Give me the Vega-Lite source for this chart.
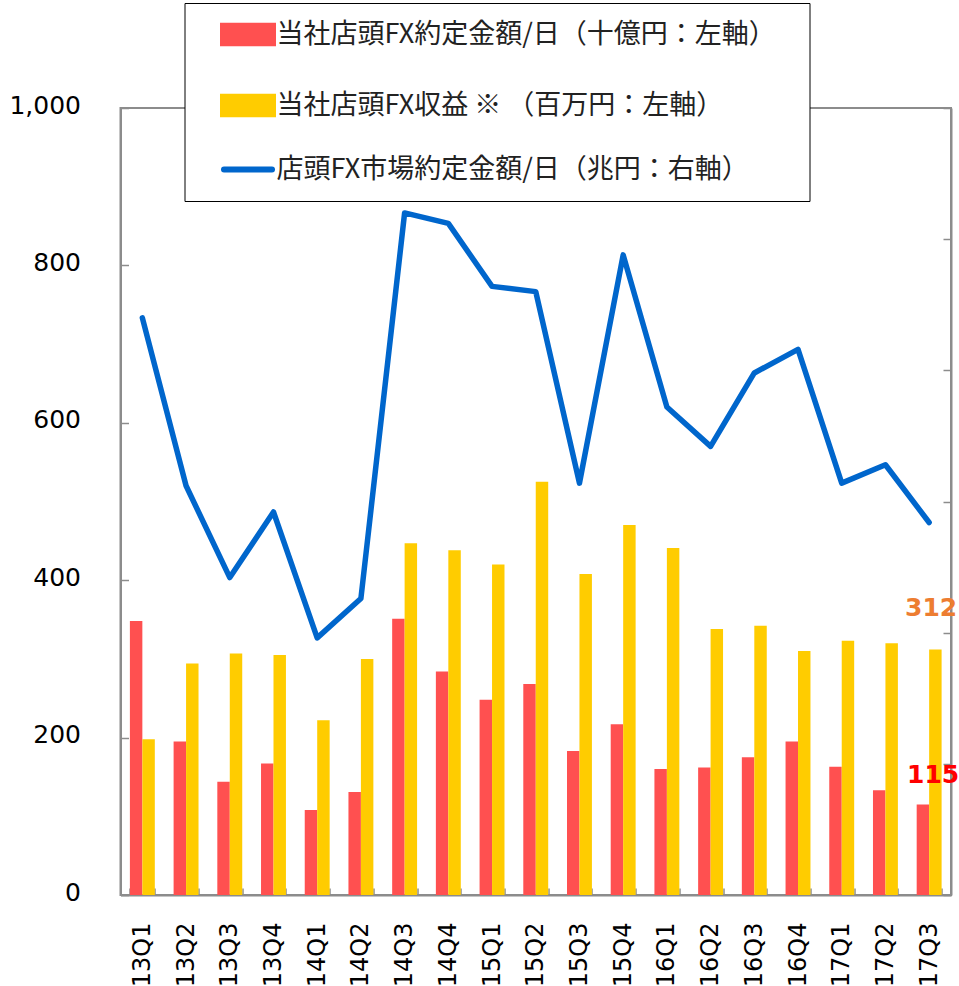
{
  "$schema": "https://vega.github.io/schema/vega-lite/v6.json",
  "width": 830.5,
  "height": 787,
  "autosize": {"type": "none"},
  "padding": {"left": 120.5, "top": 108, "right": 8, "bottom": 91},
  "background": "white",
  "config": {
    "view": {"stroke": "#8c8c8c", "strokeWidth": 2},
    "font": "DejaVu Sans",
    "axis": {"domainColor": "#8c8c8c", "domainWidth": 2, "tickColor": "#8c8c8c", "tickWidth": 1.5, "labelColor": "#000000", "grid": false, "title": null}
  },
  "datasets": {
    "bars": [
      {"q": "13Q1", "series": "当社店頭FX約定金額/日（十億円：左軸）", "value": 348},
      {"q": "13Q2", "series": "当社店頭FX約定金額/日（十億円：左軸）", "value": 195},
      {"q": "13Q3", "series": "当社店頭FX約定金額/日（十億円：左軸）", "value": 144},
      {"q": "13Q4", "series": "当社店頭FX約定金額/日（十億円：左軸）", "value": 167},
      {"q": "14Q1", "series": "当社店頭FX約定金額/日（十億円：左軸）", "value": 108},
      {"q": "14Q2", "series": "当社店頭FX約定金額/日（十億円：左軸）", "value": 131},
      {"q": "14Q3", "series": "当社店頭FX約定金額/日（十億円：左軸）", "value": 351},
      {"q": "14Q4", "series": "当社店頭FX約定金額/日（十億円：左軸）", "value": 284},
      {"q": "15Q1", "series": "当社店頭FX約定金額/日（十億円：左軸）", "value": 248},
      {"q": "15Q2", "series": "当社店頭FX約定金額/日（十億円：左軸）", "value": 268},
      {"q": "15Q3", "series": "当社店頭FX約定金額/日（十億円：左軸）", "value": 183},
      {"q": "15Q4", "series": "当社店頭FX約定金額/日（十億円：左軸）", "value": 217},
      {"q": "16Q1", "series": "当社店頭FX約定金額/日（十億円：左軸）", "value": 160},
      {"q": "16Q2", "series": "当社店頭FX約定金額/日（十億円：左軸）", "value": 162},
      {"q": "16Q3", "series": "当社店頭FX約定金額/日（十億円：左軸）", "value": 175},
      {"q": "16Q4", "series": "当社店頭FX約定金額/日（十億円：左軸）", "value": 195},
      {"q": "17Q1", "series": "当社店頭FX約定金額/日（十億円：左軸）", "value": 163},
      {"q": "17Q2", "series": "当社店頭FX約定金額/日（十億円：左軸）", "value": 133},
      {"q": "17Q3", "series": "当社店頭FX約定金額/日（十億円：左軸）", "value": 115},
      {"q": "13Q1", "series": "当社店頭FX収益 ※ （百万円：左軸）", "value": 198},
      {"q": "13Q2", "series": "当社店頭FX収益 ※ （百万円：左軸）", "value": 294},
      {"q": "13Q3", "series": "当社店頭FX収益 ※ （百万円：左軸）", "value": 307},
      {"q": "13Q4", "series": "当社店頭FX収益 ※ （百万円：左軸）", "value": 305},
      {"q": "14Q1", "series": "当社店頭FX収益 ※ （百万円：左軸）", "value": 222},
      {"q": "14Q2", "series": "当社店頭FX収益 ※ （百万円：左軸）", "value": 300},
      {"q": "14Q3", "series": "当社店頭FX収益 ※ （百万円：左軸）", "value": 447},
      {"q": "14Q4", "series": "当社店頭FX収益 ※ （百万円：左軸）", "value": 438},
      {"q": "15Q1", "series": "当社店頭FX収益 ※ （百万円：左軸）", "value": 420},
      {"q": "15Q2", "series": "当社店頭FX収益 ※ （百万円：左軸）", "value": 525},
      {"q": "15Q3", "series": "当社店頭FX収益 ※ （百万円：左軸）", "value": 408},
      {"q": "15Q4", "series": "当社店頭FX収益 ※ （百万円：左軸）", "value": 470},
      {"q": "16Q1", "series": "当社店頭FX収益 ※ （百万円：左軸）", "value": 441},
      {"q": "16Q2", "series": "当社店頭FX収益 ※ （百万円：左軸）", "value": 338},
      {"q": "16Q3", "series": "当社店頭FX収益 ※ （百万円：左軸）", "value": 342},
      {"q": "16Q4", "series": "当社店頭FX収益 ※ （百万円：左軸）", "value": 310},
      {"q": "17Q1", "series": "当社店頭FX収益 ※ （百万円：左軸）", "value": 323},
      {"q": "17Q2", "series": "当社店頭FX収益 ※ （百万円：左軸）", "value": 320},
      {"q": "17Q3", "series": "当社店頭FX収益 ※ （百万円：左軸）", "value": 312}
    ],
    "line": [
      {"q": "13Q1", "v": 22.0},
      {"q": "13Q2", "v": 15.6},
      {"q": "13Q3", "v": 12.1},
      {"q": "13Q4", "v": 14.6},
      {"q": "14Q1", "v": 9.8},
      {"q": "14Q2", "v": 11.3},
      {"q": "14Q3", "v": 26.0},
      {"q": "14Q4", "v": 25.6},
      {"q": "15Q1", "v": 23.2},
      {"q": "15Q2", "v": 23.0},
      {"q": "15Q3", "v": 15.7},
      {"q": "15Q4", "v": 24.4},
      {"q": "16Q1", "v": 18.6},
      {"q": "16Q2", "v": 17.1},
      {"q": "16Q3", "v": 19.9},
      {"q": "16Q4", "v": 20.8},
      {"q": "17Q1", "v": 15.7},
      {"q": "17Q2", "v": 16.4},
      {"q": "17Q3", "v": 14.2}
    ]
  },
  "encoding": {
    "x": {
      "field": "q", "type": "nominal", "sort": null,
      "scale": {"type": "band", "paddingInner": 0.43, "paddingOuter": 0.215},
      "axis": {"labelAngle": -90, "labelFont": "DejaVu Sans", "labelFontSize": 24, "labelPadding": 34, "tickBand": "extent", "tickSize": -7}
    }
  },
  "layer": [
    {
      "layer": [
        {
          "data": {"name": "bars"},
          "mark": {"type": "bar"},
          "encoding": {
            "xOffset": {"field": "series", "type": "nominal", "sort": ["当社店頭FX約定金額/日（十億円：左軸）", "当社店頭FX収益 ※ （百万円：左軸）"], "scale": {"paddingInner": 0, "paddingOuter": 0}},
            "y": {
              "field": "value", "type": "quantitative",
              "scale": {"domain": [0, 1000], "nice": false},
              "axis": {"values": [0, 200, 400, 600, 800, 1000], "labelExpr": "format(datum.value, ',')", "labelFont": "DejaVu Sans", "labelFontSize": 25, "labelPadding": 48, "tickSize": -8, "labelOffset": -3}
            },
            "color": {
              "field": "series", "type": "nominal",
              "scale": {
                "domain": ["当社店頭FX約定金額/日（十億円：左軸）", "当社店頭FX収益 ※ （百万円：左軸）", "店頭FX市場約定金額/日（兆円：右軸）"],
                "range": ["#FF5050", "#FFCC00", "#0066CC"]
              },
              "legend": {
                "orient": "none", "legendX": 64, "legendY": -105,
                "title": " ", "titleOrient": "right", "titlePadding": 16,
                "fillColor": "white", "strokeColor": "#000000", "padding": 18,
                "symbolOffset": 32, "symbolSize": 400, "symbolStrokeWidth": 1, "labelOffset": 15,
                "labelFont": "Noto Sans CJK JP", "labelFontSize": 27, "labelColor": "#222222", "labelLimit": 0,
                "rowPadding": 28,
                "encode": {
                  "symbols": {
                    "update": {
                      "shape": [{"test": "datum.index === 2", "value": "M-2.4,0H2.4"}, {"value": "M-2.5,-0.88H2.5V0.88H-2.5Z"}],
                      "fill": [{"test": "datum.index === 0", "value": "#FF5050"}, {"test": "datum.index === 1", "value": "#FFCC00"}, {"value": "transparent"}],
                      "stroke": [{"test": "datum.index === 2", "value": "#0066CC"}, {"value": "transparent"}],
                      "strokeWidth": {"value": 6},
                      "strokeCap": {"value": "round"},
                      "opacity": {"value": 1}
                    }
                  }
                }
              }
            }
          }
        },
        {
          "data": {"name": "bars"},
          "transform": [{"filter": "datum.q === '17Q3' && datum.value === 312"}],
          "mark": {"type": "text", "font": "DejaVu Sans", "fontWeight": "bold", "fontSize": 25, "color": "#ED7D31", "dx": 2, "dy": -41.5, "baseline": "middle", "align": "center"},
          "encoding": {
            "y": {"field": "value", "type": "quantitative"},
            "text": {"field": "value", "type": "quantitative"}
          }
        },
        {
          "data": {"name": "bars"},
          "transform": [{"filter": "datum.q === '17Q3' && datum.value === 115"}],
          "mark": {"type": "text", "font": "DejaVu Sans", "fontWeight": "bold", "fontSize": 25, "color": "#FF0000", "dx": 4, "dy": -29.5, "baseline": "middle", "align": "center"},
          "encoding": {
            "y": {"field": "value", "type": "quantitative"},
            "text": {"field": "value", "type": "quantitative"}
          }
        }
      ]
    },
    {
      "data": {"name": "line"},
      "mark": {"type": "line", "strokeWidth": 5.5, "strokeCap": "round", "strokeJoin": "round"},
      "encoding": {
        "y": {
          "field": "v", "type": "quantitative",
          "scale": {"domain": [0, 30], "nice": false},
          "axis": {"orient": "right", "labels": false, "values": [0, 5, 10, 15, 20, 25, 30], "tickSize": -8}
        },
        "color": {"datum": "店頭FX市場約定金額/日（兆円：右軸）"}
      }
    }
  ],
  "resolve": {"scale": {"y": "independent"}}
}
